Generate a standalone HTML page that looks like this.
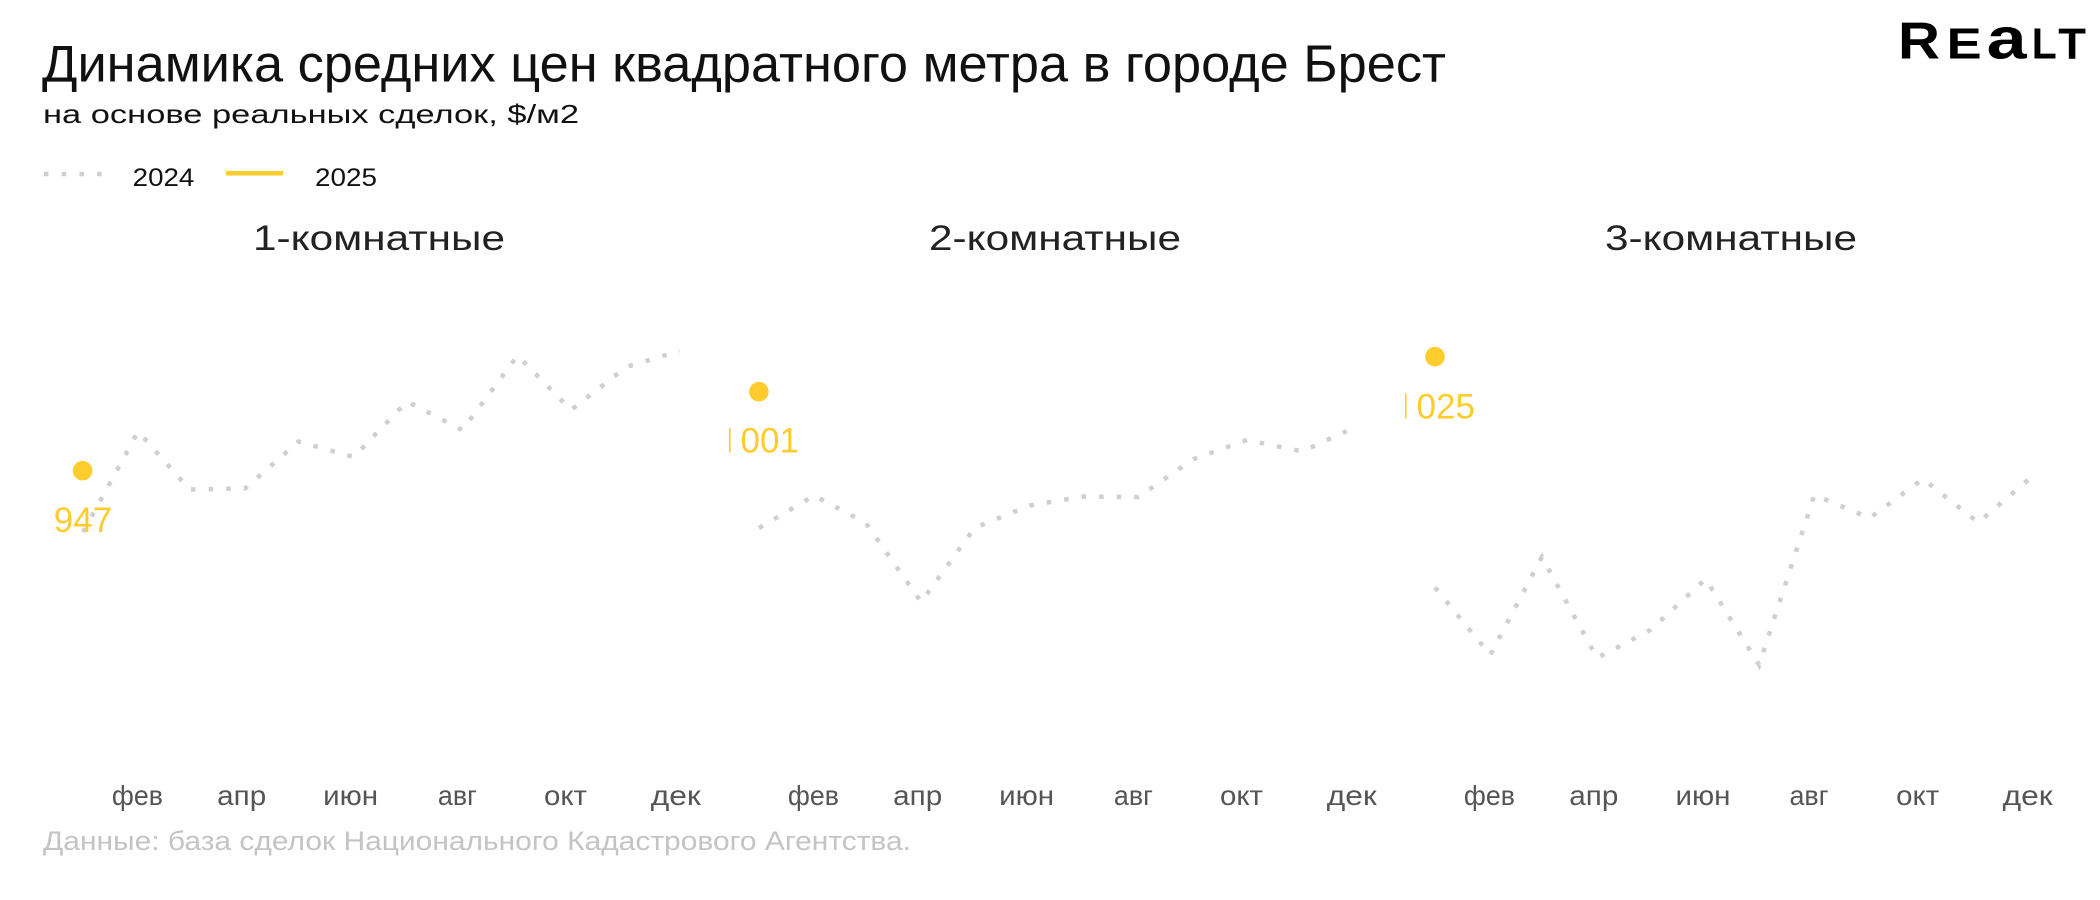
<!DOCTYPE html>
<html>
<head>
<meta charset="utf-8">
<style>
  html, body { margin: 0; padding: 0; background: #ffffff; }
  svg { display: block; }
  text { font-family: "Liberation Sans", "DejaVu Sans", sans-serif; }
</style>
</head>
<body>
<svg width="2100" height="900" viewBox="0 0 2100 900" xmlns="http://www.w3.org/2000/svg">
  <rect x="0" y="0" width="2100" height="900" fill="#ffffff"/>

  <defs>
    <clipPath id="c1"><rect x="50" y="200" width="679" height="560"/></clipPath>
    <clipPath id="c2"><rect x="739.5" y="200" width="666" height="560"/></clipPath>
    <clipPath id="c3"><rect x="1415.5" y="200" width="685" height="560"/></clipPath>
  </defs>

  <!-- Title -->
  <text x="42" y="81.5" font-size="52" fill="#111111" textLength="1404" lengthAdjust="spacingAndGlyphs">Динамика средних цен квадратного метра в городе Брест</text>
  <text x="43" y="123" font-size="26" fill="#111111" textLength="536" lengthAdjust="spacingAndGlyphs">на основе реальных сделок, $/м2</text>

  <!-- Logo -->
  <g fill="#000000" font-weight="bold">
    <text x="1898" y="58.3" font-size="52" textLength="42" lengthAdjust="spacingAndGlyphs">R</text>
    <text x="1946.7" y="58.3" font-size="44" textLength="35" lengthAdjust="spacingAndGlyphs">E</text>
    <text x="1986.7" y="58.3" font-size="58" textLength="40" lengthAdjust="spacingAndGlyphs">a</text>
    <text x="2031.7" y="58.3" font-size="44" textLength="25" lengthAdjust="spacingAndGlyphs">L</text>
    <text x="2058.3" y="58.3" font-size="44" textLength="27.7" lengthAdjust="spacingAndGlyphs">T</text>
  </g>

  <!-- Legend -->
  <line x1="44" y1="174" x2="102" y2="174" stroke="#cfcfcf" stroke-width="4.5" stroke-dasharray="4.5 13.2"/>
  <text x="132.7" y="186" font-size="25" fill="#111111" textLength="61.6" lengthAdjust="spacingAndGlyphs">2024</text>
  <line x1="226" y1="173.3" x2="283" y2="173.3" stroke="#ffcc2e" stroke-width="4.5"/>
  <text x="315" y="186" font-size="25" fill="#111111" textLength="62" lengthAdjust="spacingAndGlyphs">2025</text>

  <!-- Panel titles -->
  <text x="253" y="250" font-size="35" fill="#222222" textLength="252" lengthAdjust="spacingAndGlyphs">1-комнатные</text>
  <text x="929" y="250" font-size="35" fill="#222222" textLength="252" lengthAdjust="spacingAndGlyphs">2-комнатные</text>
  <text x="1605" y="250" font-size="35" fill="#222222" textLength="252" lengthAdjust="spacingAndGlyphs">3-комнатные</text>

  <!-- Panel 1 -->
  <g clip-path="url(#c1)">
    <polyline fill="none" stroke="#cfcfcf" stroke-width="4.5" stroke-dasharray="4.5 13.1"
      points="83,532 138.2,431.5 189.5,489.5 245,488.5 298.5,441.5 353.7,457 407,401.5 462.4,430 517.6,355.6 571,410 626.2,367 679.6,350.7"/>
    <circle cx="82.6" cy="470.7" r="9.8" fill="#ffcc2e"/>
    <text x="83" y="532" font-size="35" fill="#ffcc2e" text-anchor="middle">947</text>
  </g>

  <!-- Panel 2 -->
  <polyline fill="none" stroke="#cfcfcf" stroke-width="4.5" stroke-dasharray="4.5 13.1"
    points="759,528 814.2,495.5 865.9,523 921.1,602 974.5,528 1029.7,505.5 1083.1,496.6 1138.4,497 1193.6,459 1247,440 1302.2,451.5 1355.6,427"/>
  <circle cx="758.9" cy="391.7" r="9.8" fill="#ffcc2e"/>
  <g clip-path="url(#c2)">
    <text x="760" y="452.7" font-size="35" fill="#ffcc2e" text-anchor="middle">1001</text>
  </g>
  <line x1="729.8" y1="428" x2="729.8" y2="452.7" stroke="#ffcc2e" stroke-width="1.6"/>

  <!-- Panel 3 -->
  <polyline fill="none" stroke="#cfcfcf" stroke-width="4.5" stroke-dasharray="4.5 13.1"
    points="1435,587.5 1490.2,655 1541.9,557 1597.1,658 1650.5,630 1705.7,579 1759.1,665 1814.4,495 1869.6,518 1923,479 1978.2,522.5 2031.6,477"/>
  <circle cx="1435" cy="356.7" r="9.8" fill="#ffcc2e"/>
  <g clip-path="url(#c3)">
    <text x="1436" y="418.3" font-size="35" fill="#ffcc2e" text-anchor="middle">1025</text>
  </g>
  <line x1="1405.8" y1="393.5" x2="1405.8" y2="418.3" stroke="#ffcc2e" stroke-width="1.6"/>

  <!-- X axis labels -->
  <g font-size="28" fill="#555555" text-anchor="middle">
    <text x="137.4" y="805" textLength="51" lengthAdjust="spacingAndGlyphs">фев</text>
    <text x="241.7" y="805" textLength="49" lengthAdjust="spacingAndGlyphs">апр</text>
    <text x="350.6" y="805" textLength="55" lengthAdjust="spacingAndGlyphs">июн</text>
    <text x="457.4" y="805" textLength="39" lengthAdjust="spacingAndGlyphs">авг</text>
    <text x="565.5" y="805" textLength="43" lengthAdjust="spacingAndGlyphs">окт</text>
    <text x="675.8" y="805" textLength="50" lengthAdjust="spacingAndGlyphs">дек</text>

    <text x="813.4" y="805" textLength="51" lengthAdjust="spacingAndGlyphs">фев</text>
    <text x="917.7" y="805" textLength="49" lengthAdjust="spacingAndGlyphs">апр</text>
    <text x="1026.6" y="805" textLength="55" lengthAdjust="spacingAndGlyphs">июн</text>
    <text x="1133.4" y="805" textLength="39" lengthAdjust="spacingAndGlyphs">авг</text>
    <text x="1241.5" y="805" textLength="43" lengthAdjust="spacingAndGlyphs">окт</text>
    <text x="1351.8" y="805" textLength="50" lengthAdjust="spacingAndGlyphs">дек</text>

    <text x="1489.4" y="805" textLength="51" lengthAdjust="spacingAndGlyphs">фев</text>
    <text x="1593.8" y="805" textLength="49" lengthAdjust="spacingAndGlyphs">апр</text>
    <text x="1703.0" y="805" textLength="55" lengthAdjust="spacingAndGlyphs">июн</text>
    <text x="1809.0" y="805" textLength="39" lengthAdjust="spacingAndGlyphs">авг</text>
    <text x="1917.7" y="805" textLength="43" lengthAdjust="spacingAndGlyphs">окт</text>
    <text x="2027.7" y="805" textLength="50" lengthAdjust="spacingAndGlyphs">дек</text>
  </g>

  <!-- Footer -->
  <text x="43" y="850" font-size="27" fill="#c4c4c4" textLength="868" lengthAdjust="spacingAndGlyphs">Данные: база сделок Национального Кадастрового Агентства.</text>
</svg>
</body>
</html>
